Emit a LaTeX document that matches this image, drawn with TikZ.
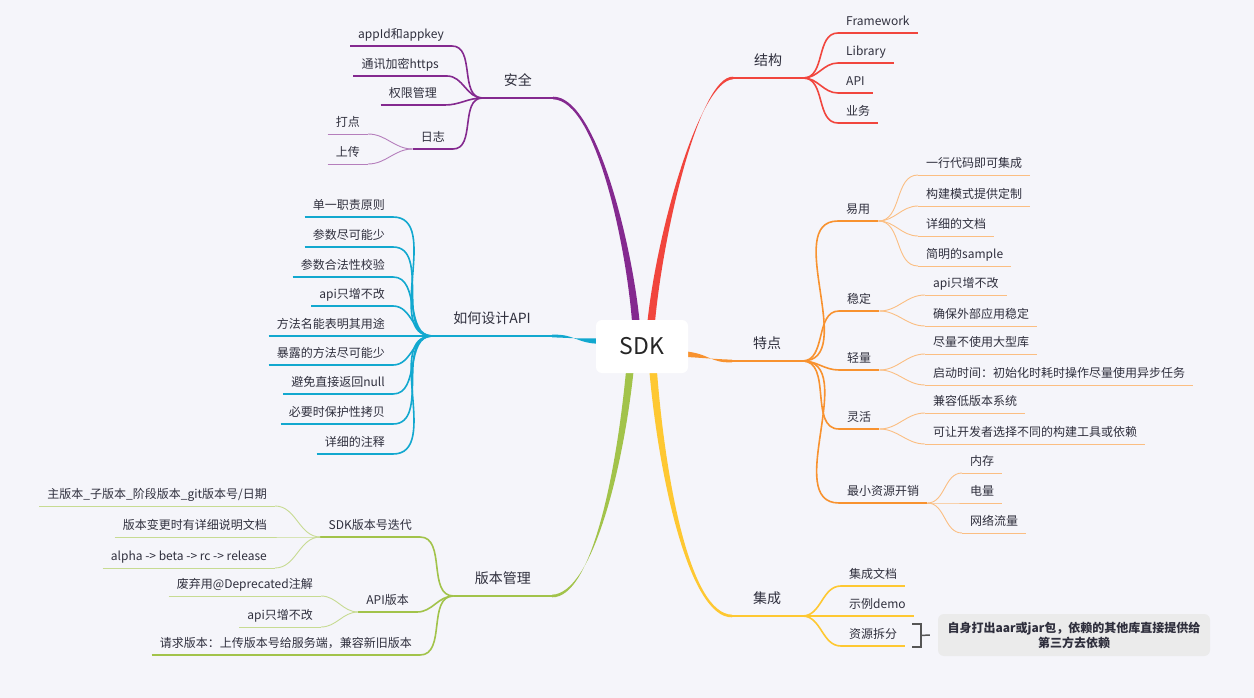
\documentclass[tikz,border=0pt]{standalone}
\usepackage{fontspec}
\setmainfont{Noto Sans CJK SC}
\usepackage{xcolor}
\usepackage{tikz}
\usetikzlibrary{positioning,calc}

\definecolor{bgc}{HTML}{F5F5FA}
\definecolor{txt}{HTML}{2F2F3D}
\definecolor{pur}{HTML}{84298F}
\definecolor{redb}{HTML}{F1453D}
\definecolor{org}{HTML}{F8922F}
\definecolor{yel}{HTML}{FEC832}
\definecolor{grn}{HTML}{A2C34A}
\definecolor{cyn}{HTML}{12A8CF}
\definecolor{notebg}{HTML}{EBEBEB}
\definecolor{brk}{HTML}{555555}

% tapered main branch: colour, start, control 1, control 2, end, start offset
\newcommand{\trunk}[6]{%
  \fill[#1] ($(#2)+(#6)$) .. controls ($(#3)+0.85*(#6)$) and ($(#4)+(0,-2.2)$) .. ($(#5)+(0,-1.3)$)
    -- ($(#5)+(0,1.3)$) .. controls ($(#4)+(0,2.2)$) and ($(#3)-0.85*(#6)$) .. ($(#2)-(#6)$) -- cycle;}

\tikzset{
  topic/.style={font=\fontsize{14}{16}\selectfont, text=txt, inner xsep=21pt, inner ysep=10pt, text depth=0.25em},
  sub/.style={font=\fontsize{12}{14}\selectfont, text=txt, inner xsep=8pt, inner ysep=4.5pt, text depth=0.25em},
  lt/.style={anchor=south east},
  rt/.style={anchor=south west},
  link/.style={line width=1.6pt},
  twig/.style={line width=0.9pt},
  toL/.style={out=180,in=0},
  toR/.style={out=0,in=180},
}

\begin{document}
\begin{tikzpicture}[x=1pt,y=-1pt]
  \fill[bgc] (0,0) rectangle (1254,698);
  \useasboundingbox (0,0) rectangle (1254,698);

  % main topics
  \node[topic, lt] (anq) at (553,98) {安全};
  \node[topic, lt] (api) at (552,336) {如何设计API};
  \node[topic, lt] (ver) at (552,596) {版本管理};
  \node[topic, rt] (jg) at (733,78) {结构};
  \node[topic, rt] (td) at (732,361) {特点};
  \node[topic, rt] (jc) at (732,616) {集成};

  % 安全
  \node[sub, lt] (anq1) at (452,46) {appId和appkey};
  \node[sub, lt] (anq2) at (447,76) {通讯加密https};
  \node[sub, lt] (anq3) at (445,105) {权限管理};
  \node[sub, lt] (rizhi) at (453,149) {日志};
  \node[sub, lt] (dadian) at (368,134) {打点};
  \node[sub, lt] (shangc) at (368,164) {上传};

  % 如何设计API
  \node[sub, lt] (api1) at (393,217) {单一职责原则};
  \node[sub, lt] (api2) at (393,247) {参数尽可能少};
  \node[sub, lt] (api3) at (393,277) {参数合法性校验};
  \node[sub, lt] (api4) at (393,306) {api只增不改};
  \node[sub, lt] (api5) at (393,336) {方法名能表明其用途};
  \node[sub, lt] (api6) at (393,365) {暴露的方法尽可能少};
  \node[sub, lt] (api7) at (393,394) {避免直接返回null};
  \node[sub, lt] (api8) at (393,424) {必要时保护性拷贝};
  \node[sub, lt] (api9) at (393,454) {详细的注释};

  % 版本管理
  \node[sub, lt] (sdkv) at (420,537) {SDK版本号迭代};
  \node[sub, lt] (sdkv1) at (275,506) {主版本\_子版本\_阶段版本\_git版本号/日期};
  \node[sub, lt] (sdkv2) at (275,537) {版本变更时有详细说明文档};
  \node[sub, lt] (sdkv3) at (275,568) {alpha -> beta -> rc -> release};
  \node[sub, lt] (apiv) at (417,612) {API版本};
  \node[sub, lt] (apiv1) at (321,596) {废弃用@Deprecated注解};
  \node[sub, lt] (apiv2) at (321,627) {api只增不改};
  \node[sub, lt] (reqv) at (420,655) {请求版本：上传版本号给服务端，兼容新旧版本};

  % 结构
  \node[sub, rt] (jg1) at (838,33) {Framework};
  \node[sub, rt] (jg2) at (838,63) {Library};
  \node[sub, rt] (jg3) at (838,93) {API};
  \node[sub, rt] (jg4) at (838,123) {业务};

  % 特点
  \node[sub, rt] (yiyong) at (838,221) {易用};
  \node[sub, rt] (yy1) at (918,175) {一行代码即可集成};
  \node[sub, rt] (yy2) at (918,206) {构建模式提供定制};
  \node[sub, rt] (yy3) at (918,236) {详细的文档};
  \node[sub, rt] (yy4) at (918,266) {简明的sample};
  \node[sub, rt] (wending) at (839,311) {稳定};
  \node[sub, rt] (wd1) at (925,295) {api只增不改};
  \node[sub, rt] (wd2) at (925,326) {确保外部应用稳定};
  \node[sub, rt] (qingl) at (839,370) {轻量};
  \node[sub, rt] (ql1) at (925,354) {尽量不使用大型库};
  \node[sub, rt] (ql2) at (925,385) {启动时间：初始化时耗时操作尽量使用异步任务};
  \node[sub, rt] (linghuo) at (839,429) {灵活};
  \node[sub, rt] (lh1) at (925,413) {兼容低版本系统};
  \node[sub, rt] (lh2) at (925,444) {可让开发者选择不同的构建工具或依赖};
  \node[sub, rt] (zxzy) at (839,503) {最小资源开销};
  \node[sub, rt] (zx1) at (962,473) {内存};
  \node[sub, rt] (zx2) at (962,503) {电量};
  \node[sub, rt] (zx3) at (962,533) {网络流量};

  % 集成
  \node[sub, rt] (jc1) at (841,586) {集成文档};
  \node[sub, rt] (jc2) at (841,616) {示例demo};
  \node[sub, rt] (jc3) at (841,646) {资源拆分};
  \node[fill=notebg, rounded corners=6pt, minimum width=272pt, minimum height=42pt, align=center,
        font=\fontsize{12}{15}\selectfont\bfseries, text=txt] (note) at (1074,635)
    {自身打出aar或jar包，依赖的其他库直接提供给\\第三方去依赖};
  \coordinate (brt) at (912,624);
  \coordinate (brb) at (912,647);
  \draw[brk, line width=1.5pt] (brt) -- ++(9,0) |- (brb);
  \draw[brk, line width=1.5pt] ($(brt)!0.5!(brb)+(9,0)$) -- ([xshift=-8pt]note.west);

  % underlines
  \foreach \n/\c in {anq/pur, api/cyn, ver/grn, jg/redb, td/org, jc/yel}
    \draw[\c, line width=2.6pt] (\n.south west) -- (\n.south east);
  \foreach \n/\c in {anq1/pur, anq2/pur, anq3/pur, rizhi/pur,
      api1/cyn, api2/cyn, api3/cyn, api4/cyn, api5/cyn, api6/cyn, api7/cyn, api8/cyn, api9/cyn,
      sdkv/grn, apiv/grn, reqv/grn, jg1/redb, jg2/redb, jg3/redb, jg4/redb,
      yiyong/org, wending/org, qingl/org, linghuo/org, zxzy/org, jc1/yel, jc2/yel, jc3/yel}
    \draw[\c, line width=2pt] (\n.south west) -- (\n.south east);
  \foreach \n/\c in {dadian/pur, shangc/pur, sdkv1/grn, sdkv2/grn, sdkv3/grn, apiv1/grn, apiv2/grn,
      yy1/org, yy2/org, yy3/org, yy4/org, wd1/org, wd2/org, ql1/org, ql2/org,
      lh1/org, lh2/org, zx1/org, zx2/org, zx3/org}
    \draw[\c!60, twig] (\n.south west) -- (\n.south east);

  % connectors, left side
  \foreach \k in {anq1, anq2, anq3, rizhi}
    \draw[pur, link] (anq.south west) to[toL] (\k.south east);
  \foreach \k in {dadian, shangc}
    \draw[pur!60, twig] (rizhi.south west) to[toL] (\k.south east);
  \foreach \k in {api1, api2, api3, api4, api5, api6, api7, api8, api9}
    \draw[cyn, link] (api.south west) to[toL] (\k.south east);
  \foreach \k in {sdkv, apiv, reqv}
    \draw[grn, link] (ver.south west) to[toL] (\k.south east);
  \foreach \k in {sdkv1, sdkv2, sdkv3}
    \draw[grn!60, twig] (sdkv.south west) to[toL] (\k.south east);
  \foreach \k in {apiv1, apiv2}
    \draw[grn!60, twig] (apiv.south west) to[toL] (\k.south east);

  % connectors, right side
  \foreach \k in {jg1, jg2, jg3, jg4}
    \draw[redb, link] (jg.south east) to[toR] (\k.south west);
  \foreach \k in {yiyong, wending, qingl, linghuo, zxzy}
    \draw[org, link] (td.south east) to[toR] (\k.south west);
  \foreach \k in {yy1, yy2, yy3, yy4}
    \draw[org!60, twig] (yiyong.south east) to[toR] (\k.south west);
  \foreach \k in {wd1, wd2}
    \draw[org!60, twig] (wending.south east) to[toR] (\k.south west);
  \foreach \k in {ql1, ql2}
    \draw[org!60, twig] (qingl.south east) to[toR] (\k.south west);
  \foreach \k in {lh1, lh2}
    \draw[org!60, twig] (linghuo.south east) to[toR] (\k.south west);
  \foreach \k in {zx1, zx2, zx3}
    \draw[org!60, twig] (zxzy.south east) to[toR] (\k.south west);
  \foreach \k in {jc1, jc2, jc3}
    \draw[yel, link] (jc.south east) to[toR] (\k.south west);

  % main branches from the centre
  \coordinate (sPur) at (636,324);
  \coordinate (sRed) at (651,324);
  \coordinate (sCyn) at (600,341);
  \coordinate (sOrg) at (684,354);
  \coordinate (sGrn) at (630,369);
  \coordinate (sYel) at (653,369);
  \trunk{pur}{sPur}{630,250}{597,98}{anq.south east}{3.8,0}
  \trunk{redb}{sRed}{660,230}{700,78}{jg.south west}{3.8,0}
  \trunk{cyn}{sCyn}{576,341}{575,336}{api.south east}{0,2.8}
  \trunk{org}{sOrg}{710,356}{710,361}{td.south west}{0,2.8}
  \trunk{grn}{sGrn}{620,470}{592,596}{ver.south east}{3.8,0}
  \trunk{yel}{sYel}{662,480}{690,616}{jc.south west}{3.8,0}

  \node[fill=white, rounded corners=6pt, minimum width=92pt, minimum height=53pt,
        font=\fontsize{23}{26}\selectfont, text=black!85] (sdk) at (642,346.5) {SDK};
\end{tikzpicture}
\end{document}
